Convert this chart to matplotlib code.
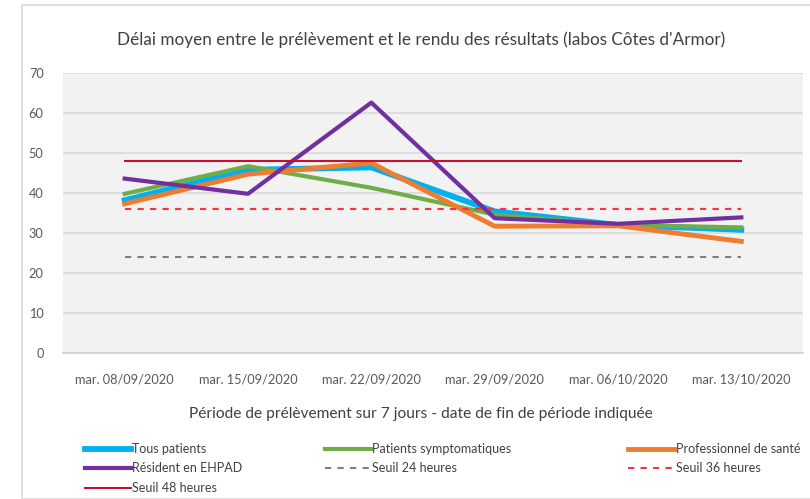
import matplotlib.pyplot as plt
from matplotlib.patches import Rectangle

plt.rcParams['font.family'] = ['Lato', 'DejaVu Sans']

# données
dates = ['mar. 08/09/2020', 'mar. 15/09/2020', 'mar. 22/09/2020',
         'mar. 29/09/2020', 'mar. 06/10/2020', 'mar. 13/10/2020']
tous_patients = [38.2, 45.8, 46.4, 35.4, 32.0, 30.8]
symptomatiques = [39.8, 46.7, 41.3, 34.6, 32.0, 31.4]
pro_sante = [37.3, 44.7, 47.5, 31.7, 31.8, 27.9]
ehpad = [43.6, 39.8, 62.6, 33.7, 32.3, 33.9]
seuil_24 = [24, 24, 24, 24, 24, 24]
seuil_36 = [36, 36, 36, 36, 36, 36]
seuil_48 = [48, 48, 48, 48, 48, 48]

fig = plt.figure(figsize=(8.1, 4.99), dpi=100)
fig.patch.set_facecolor('white')
fig.patches.append(Rectangle((22 / 810, 0), 1, 1 - 5 / 499, transform=fig.transFigure,
                             fill=False, edgecolor='#d9d9d9', linewidth=1.2))

ax = fig.add_axes([63 / 810, 1 - 353 / 499, 740 / 810, 280 / 499])
ax.set_facecolor('#f2f2f2')
x = list(range(len(dates)))

l_tous, = ax.plot(x, tous_patients, color='#00b0f0', lw=4.2, label='Tous patients')
l_sym, = ax.plot(x, symptomatiques, color='#70ad47', lw=3, label='Patients symptomatiques')
l_pro, = ax.plot(x, pro_sante, color='#ed7d31', lw=3.5, label='Professionnel de santé')
l_eh, = ax.plot(x, ehpad, color='#7030a0', lw=3, label='Résident en EHPAD')
l_24, = ax.plot(x, seuil_24, color='#7f7f7f', lw=1.5, ls=(0, (3, 3)), label='Seuil 24 heures')
l_36, = ax.plot(x, seuil_36, color='#ff3040', lw=1.5, ls=(0, (3, 3)), label='Seuil 36 heures')
l_48, = ax.plot(x, seuil_48, color='#c8102e', lw=1.5, label='Seuil 48 heures')

ax.set_xlim(-0.5, 5.5)
ax.set_ylim(0, 70)
ax.set_yticks(range(0, 71, 10))
ax.set_xticks(x)
ax.set_xticklabels(dates)
ax.tick_params(length=0, labelsize=9.2, colors='#595959', pad=15)
ax.tick_params(axis='y', pad=14)
ax.grid(axis='y', color='#d9d9d9', lw=1.2)
ax.set_axisbelow(True)
for s in ['top', 'right', 'left']:
    ax.spines[s].set_visible(False)
ax.spines['bottom'].set_color('#d0d0d0')
ax.spines['bottom'].set_linewidth(1.2)

fig.text(421 / 810, 1 - 40 / 499,
         "Délai moyen entre le prélèvement et le rendu des résultats (labos Côtes d'Armor)",
         ha='center', va='center', fontsize=12.3, color='#404040')
fig.text(421 / 810, 1 - 414 / 499,
         'Période de prélèvement sur 7 jours - date de fin de période indiquée',
         ha='center', va='center', fontsize=11.2, color='#404040')

# légende en trois colonnes à largeur fixe, comme dans Excel
colonnes = [([l_tous, l_eh, l_48], 85), ([l_sym, l_24], 325), ([l_pro, l_36], 628)]
for hs, x0 in colonnes:
    leg = fig.legend(handles=hs, labels=[h.get_label() for h in hs],
                     loc='upper left', bbox_to_anchor=(x0 / 810, 1 - 443 / 499),
                     frameon=False, fontsize=9, handlelength=3.7, handletextpad=0.1,
                     labelspacing=0.6, borderaxespad=0, borderpad=0)
    for t in leg.get_texts():
        t.set_color('#404040')

fig.savefig('out.png', dpi=100)
